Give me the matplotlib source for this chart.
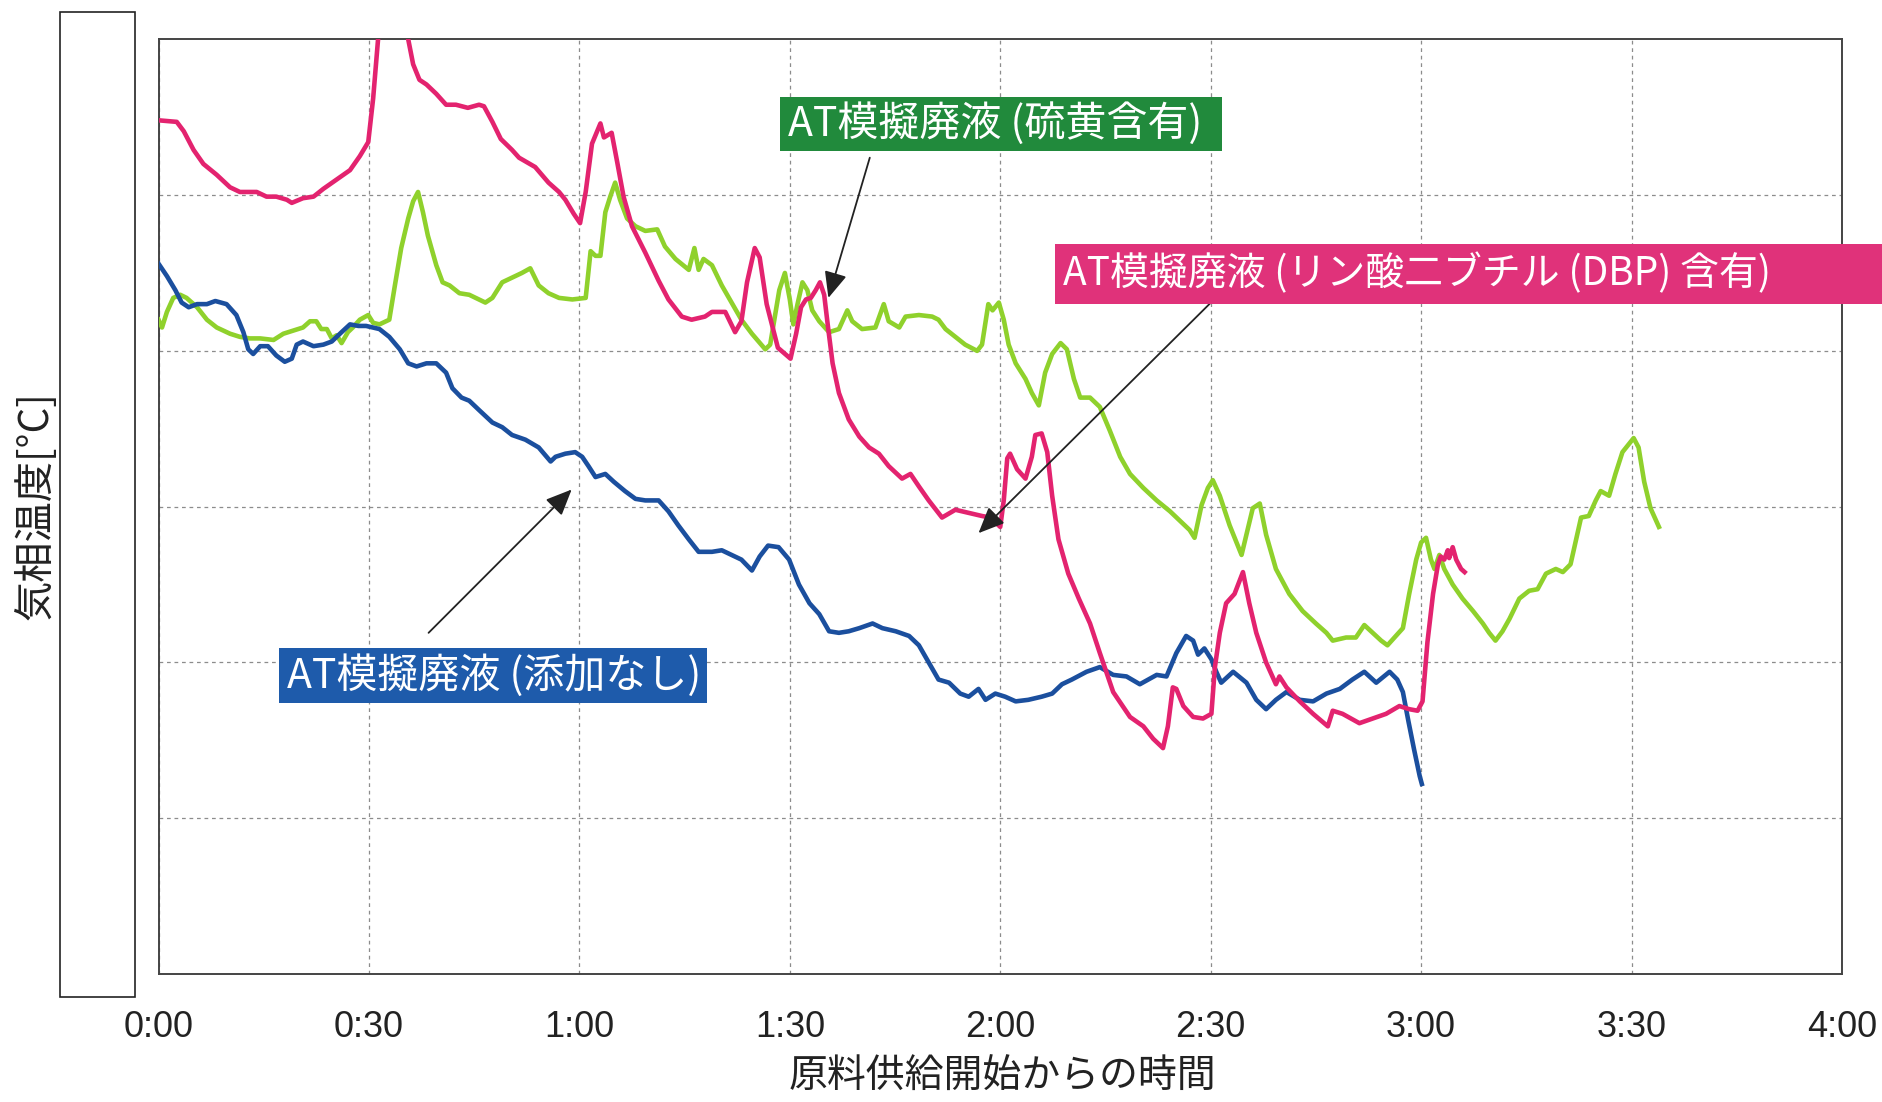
import matplotlib
matplotlib.use("Agg")
import matplotlib.pyplot as plt
from matplotlib.patches import Rectangle

plt.rcParams['font.family'] = ['Noto Sans CJK JP', 'DejaVu Sans']

# ---- data: time since feed start [min], gas-phase temperature [°C] ----
x_ticks = [0, 30, 60, 90, 120, 150, 180, 210, 240]
x_tick_labels = ['0:00', '0:30', '1:00', '1:30', '2:00', '2:30', '3:00', '3:30', '4:00']

series_names = ['AT模擬廃液 (添加なし)',
                'AT模擬廃液 (硫黄含有)',
                'AT模擬廃液 (リン酸二ブチル (DBP) 含有)']

# no additive
t_none = [0, 1.2, 2.4, 3.3, 4.3, 5.5, 6.9, 8.1, 9.7, 11.1,
          12.1, 12.8, 13.5, 14.5, 15.6, 16.8, 18.0, 19.0, 19.7, 20.6,
          22.1, 23.5, 24.7, 26.1, 27.3, 28.5, 29.6, 31.5, 32.9, 34.4,
          35.6, 36.8, 38.2, 39.6, 41.0, 41.9, 43.2, 44.3, 45.7, 47.6,
          49.0, 50.4, 52.3, 54.2, 55.9, 56.6, 58.0, 59.4, 60.4, 61.3,
          62.3, 63.7, 64.9, 66.5, 68.0, 69.4, 71.3, 72.7, 74.1, 75.6,
          77.0, 78.9, 80.3, 81.7, 83.1, 84.6, 85.7, 86.9, 88.4, 89.9,
          91.3, 92.8, 94.2, 95.6, 97.0, 98.4, 99.9, 101.8, 103.2, 105.1,
          107.0, 108.4, 109.8, 111.2, 112.7, 114.3, 115.5, 116.9, 117.9, 119.3,
          120.7, 122.2, 124.0, 125.9, 127.4, 128.8, 130.2, 132.3, 134.2, 136.1,
          138.0, 139.9, 142.3, 143.7, 145.1, 146.5, 147.5, 148.2, 149.1, 150.1,
          150.8, 151.5, 153.2, 155.1, 156.5, 157.9, 159.3, 160.8, 162.7, 164.6,
          166.5, 168.4, 170.2, 171.9, 173.6, 175.5, 176.6, 177.4, 178.2, 179.0,
          179.8, 180.1]
temp_none = [656, 648, 639, 631, 628, 630, 630, 632, 630, 623,
             612, 601, 598, 603, 603, 597, 593, 595, 604, 606,
             603, 604, 606, 612, 617, 616, 616, 614, 609, 601,
             592, 590, 592, 592, 586, 576, 570, 568, 562, 554,
             551, 546, 543, 538, 529, 532, 534, 535, 532, 526,
             519, 521, 516, 510, 505, 504, 504, 497, 488, 479,
             471, 471, 472, 469, 466, 459, 468, 475, 474, 466,
             450, 438, 431, 420, 419, 420, 422, 425, 422, 420,
             417, 411, 400, 389, 387, 380, 378, 383, 376, 380,
             378, 375, 376, 378, 380, 386, 389, 394, 397, 392,
             391, 386, 392, 391, 406, 417, 414, 405, 409, 402,
             394, 387, 394, 387, 376, 370, 376, 381, 376, 375,
             380, 383, 389, 394, 387, 394, 389, 381, 362, 344,
             327, 322]

# sulfur-containing
t_sulfur = [0, 0.5, 1.2, 2.1, 3.1, 4.0, 5.5, 6.9, 8.3, 10.2,
            11.6, 13.0, 14.5, 16.4, 17.8, 19.2, 20.6, 21.6, 22.5, 23.2,
            24.0, 24.7, 25.4, 26.1, 27.0, 27.7, 28.7, 29.9, 30.6, 31.5,
            32.9, 33.7, 34.6, 35.6, 36.3, 37.0, 37.7, 38.4, 39.6, 40.5,
            41.5, 42.9, 44.3, 45.7, 46.6, 47.6, 49.0, 50.4, 51.8, 53.0,
            54.2, 55.6, 57.1, 59.0, 60.9, 61.6, 62.3, 63.0, 63.7, 64.4,
            65.1, 65.8, 66.8, 68.0, 69.4, 71.1, 72.2, 73.7, 75.6, 76.4,
            77.0, 77.7, 78.9, 80.3, 81.7, 83.1, 84.6, 86.5, 87.2, 87.8,
            88.5, 89.3, 90.0, 90.5, 91.1, 91.8, 92.5, 93.2, 94.2, 95.6,
            97.0, 98.2, 98.9, 100.3, 102.2, 103.4, 104.1, 105.6, 106.5, 108.4,
            110.3, 111.2, 112.2, 113.6, 115.0, 116.7, 117.4, 118.3, 118.9, 119.8,
            120.5, 121.2, 122.2, 123.6, 124.5, 125.5, 126.4, 127.4, 128.6, 129.5,
            130.5, 131.4, 132.8, 134.2, 135.6, 137.1, 138.5, 140.4, 142.3, 144.2,
            145.6, 147.0, 147.7, 148.7, 149.6, 150.3, 151.3, 152.7, 154.4, 155.1,
            156.0, 157.0, 157.9, 159.3, 161.2, 163.1, 165.0, 166.5, 167.4, 169.3,
            170.7, 171.9, 173.1, 174.3, 175.2, 176.2, 177.4, 178.3, 179.3, 180.0,
            180.7, 181.4, 181.9, 182.6, 183.3, 184.5, 185.9, 187.4, 188.8, 189.7,
            190.6, 191.6, 192.6, 194.0, 195.4, 196.6, 197.8, 199.2, 200.2, 201.3,
            202.1, 202.8, 203.9, 204.9, 205.6, 206.8, 207.7, 208.7, 209.6, 210.3,
            211.0, 211.8, 212.7, 213.9]
temp_sulfur = [620, 615, 625, 634, 636, 634, 628, 620, 615, 611,
               609, 608, 608, 607, 611, 613, 615, 619, 619, 614,
               614, 608, 610, 605, 612, 615, 620, 623, 618, 617,
               620, 642, 666, 685, 696, 702, 689, 674, 655, 644,
               642, 637, 636, 633, 631, 634, 644, 647, 650, 653,
               642, 637, 634, 633, 634, 664, 661, 661, 689, 699,
               708, 697, 685, 680, 677, 678, 667, 659, 652, 666,
               652, 659, 655, 642, 631, 620, 611, 601, 604, 620,
               639, 650, 633, 617, 630, 644, 639, 626, 619, 612,
               614, 626, 619, 614, 615, 630, 619, 615, 622, 623,
               622, 620, 614, 609, 604, 600, 604, 630, 626, 631,
               620, 604, 592, 582, 573, 565, 586, 598, 605, 601,
               582, 570, 570, 564, 549, 532, 521, 512, 504, 497,
               491, 485, 480, 501, 512, 517, 507, 488, 469, 482,
               499, 502, 482, 460, 444, 433, 425, 419, 414, 416,
               416, 424, 419, 414, 411, 416, 422, 444, 466, 477,
               480, 466, 460, 469, 460, 450, 441, 433, 425, 419,
               414, 420, 428, 441, 446, 447, 457, 460, 458, 463,
               479, 493, 494, 504, 510, 507, 521, 535, 540, 544,
               538, 516, 499, 487]

# dibutyl phosphate (DBP)-containing
t_dbp = [0, 2.6, 3.6, 5.0, 6.4, 8.3, 10.2, 11.6, 14.0, 15.4,
         16.8, 18.3, 19.0, 20.6, 22.1, 23.5, 25.4, 27.3, 28.7, 29.9,
         30.6, 31.3, 33.3, 35.6, 36.3, 37.2, 38.2, 39.6, 41.0, 42.4,
         44.1, 45.7, 46.4, 47.6, 48.8, 50.4, 51.4, 53.7, 55.6, 57.1,
         58.0, 59.2, 60.1, 60.9, 61.8, 63.0, 63.5, 64.6, 65.4, 66.3,
         67.5, 69.4, 71.3, 72.7, 74.6, 76.0, 77.9, 78.9, 80.8, 82.2,
         83.1, 83.9, 85.0, 85.7, 86.7, 88.3, 90.1, 90.9, 91.6, 92.3,
         93.0, 93.7, 94.3, 94.9, 95.4, 96.1, 97.0, 98.4, 99.9, 101.3,
         102.7, 104.1, 106.0, 107.2, 108.4, 109.8, 111.7, 113.6, 115.5, 117.4,
         118.6, 120.0, 120.5, 121.0, 121.4, 122.4, 123.6, 124.5, 125.0, 125.9,
         126.7, 127.4, 128.3, 129.7, 131.2, 132.8, 134.2, 136.1, 138.5, 140.4,
         141.8, 143.2, 143.9, 144.6, 145.1, 146.1, 147.5, 148.9, 150.1, 150.6,
         151.3, 152.2, 153.4, 154.6, 155.5, 156.5, 157.9, 159.3, 159.8, 160.8,
         162.7, 164.6, 166.7, 167.4, 168.8, 171.2, 173.1, 175.0, 176.9, 178.3,
         179.5, 180.2, 180.9, 181.7, 182.4, 182.8, 183.3, 183.8, 184.0, 184.5,
         185.0, 185.7, 186.2]
temp_dbp = [748, 747, 741, 729, 720, 713, 705, 702, 702, 699,
            699, 697, 695, 698, 699, 704, 710, 716, 725, 734,
            762, 800, 860, 800, 784, 774, 771, 765, 758, 758,
            756, 758, 757, 747, 736, 729, 724, 718, 708, 702,
            697, 688, 682, 702, 733, 746, 737, 740, 721, 699,
            680, 663, 645, 633, 622, 620, 622, 625, 625, 612,
            619, 644, 666, 660, 630, 602, 595, 611, 628, 633,
            634, 639, 644, 636, 617, 592, 573, 556, 545, 538,
            534, 526, 518, 521, 513, 504, 493, 498, 496, 494,
            493, 487, 504, 531, 534, 524, 518, 532, 546, 547,
            535, 507, 479, 457, 441, 425, 406, 381, 365, 359,
            351, 345, 359, 384, 383, 372, 365, 364, 367, 397,
            419, 438, 444, 458, 438, 419, 400, 386, 391, 384,
            375, 367, 359, 369, 367, 361, 364, 367, 372, 370,
            369, 375, 413, 444, 463, 468, 466, 472, 467, 474,
            466, 460, 458]

BLUE = '#1b4f9e'
GREEN = '#8fd12c'
PINK = '#e3236f'

# ---- figure layout (pixel helpers) ----
W, H = 1882, 1102
fig = plt.figure(figsize=(W / 100, H / 100), dpi=100)
fig.patch.set_facecolor('white')


def fig_xy(px, py):
    return px / W, 1 - py / H


x0, y1 = fig_xy(158.5, 39.3)
x1, y0 = fig_xy(1842, 974)
ax = fig.add_axes([x0, y0, x1 - x0, y1 - y0])
ax.set_xlim(0, 240)
ax.set_ylim(200, 800)
ax.set_xticks(x_ticks)
ax.set_xticklabels(x_tick_labels, fontfamily='Liberation Sans', fontsize=26, color='#222222')
ax.set_yticks([300, 400, 500, 600, 700])
ax.tick_params(axis='both', length=0)
ax.tick_params(axis='x', pad=26)
ax.tick_params(axis='y', labelleft=False)
ax.grid(True, color='#8c8c8c', linestyle=(0, (3, 3)), linewidth=0.9)
ax.set_axisbelow(True)
for sp in ax.spines.values():
    sp.set_color('#444444')
    sp.set_linewidth(1.4)

ax.plot(t_sulfur, temp_sulfur, color=GREEN, lw=3.3, solid_joinstyle='round', zorder=3)
ax.plot(t_none, temp_none, color=BLUE, lw=3.3, solid_joinstyle='round', zorder=4)
ax.plot(t_dbp, temp_dbp, color=PINK, lw=3.3, solid_joinstyle='round', zorder=5)

# blank panel over the temperature scale
bx, by = fig_xy(60, 997)
fig.add_artist(Rectangle((bx, by), 75 / W, 985 / H, transform=fig.transFigure,
                         facecolor='white', edgecolor='#222222', lw=1.2, zorder=10))

# axis titles
tx, ty = fig_xy(35, 506)
fig.text(tx, ty, '気相温度[°C]', rotation=90, ha='center', va='center',
         fontsize=29, color='#222222')
tx, ty = fig_xy(1002, 1077)
fig.text(tx, ty, '原料供給開始からの時間', ha='center', va='center',
         fontsize=28, color='#222222')

# series labels in coloured boxes
label_boxes = [
    # name index, box (left, top, right, bottom) in px, colour, font size
    (1, (780, 97, 1222, 151), '#218a3c', 29.5),
    (2, (1055, 244, 1882, 304), '#e0327a', 28),
    (0, (279, 648, 707, 703), '#1e5bab', 29.5),
]
for idx, (l, t, r, b), col, fs in label_boxes:
    lx, ly = fig_xy(l, b)
    fig.add_artist(Rectangle((lx, ly), (r - l) / W, (b - t) / H, transform=fig.transFigure,
                             facecolor=col, edgecolor='none', zorder=11))
    tx, ty = fig_xy(l + 8, (t + b) / 2)
    fig.text(tx, ty, series_names[idx], ha='left', va='center', fontsize=fs,
             color='white', zorder=12)

# arrows from labels to curves (data coordinates)
arrow_style = dict(arrowstyle='-|>,head_length=0.8,head_width=0.35', color='#222222',
                   lw=1.3, shrinkA=0, shrinkB=0, mutation_scale=20)
for start, tip in [((101.4, 724), (95.5, 634)),
                   ((150.7, 634), (116.9, 483)),
                   ((38.5, 419), (58.9, 511))]:
    ax.annotate('', xy=tip, xytext=start, arrowprops=arrow_style,
                annotation_clip=False, zorder=8)

fig.savefig('out.png', dpi=100, facecolor='white')
